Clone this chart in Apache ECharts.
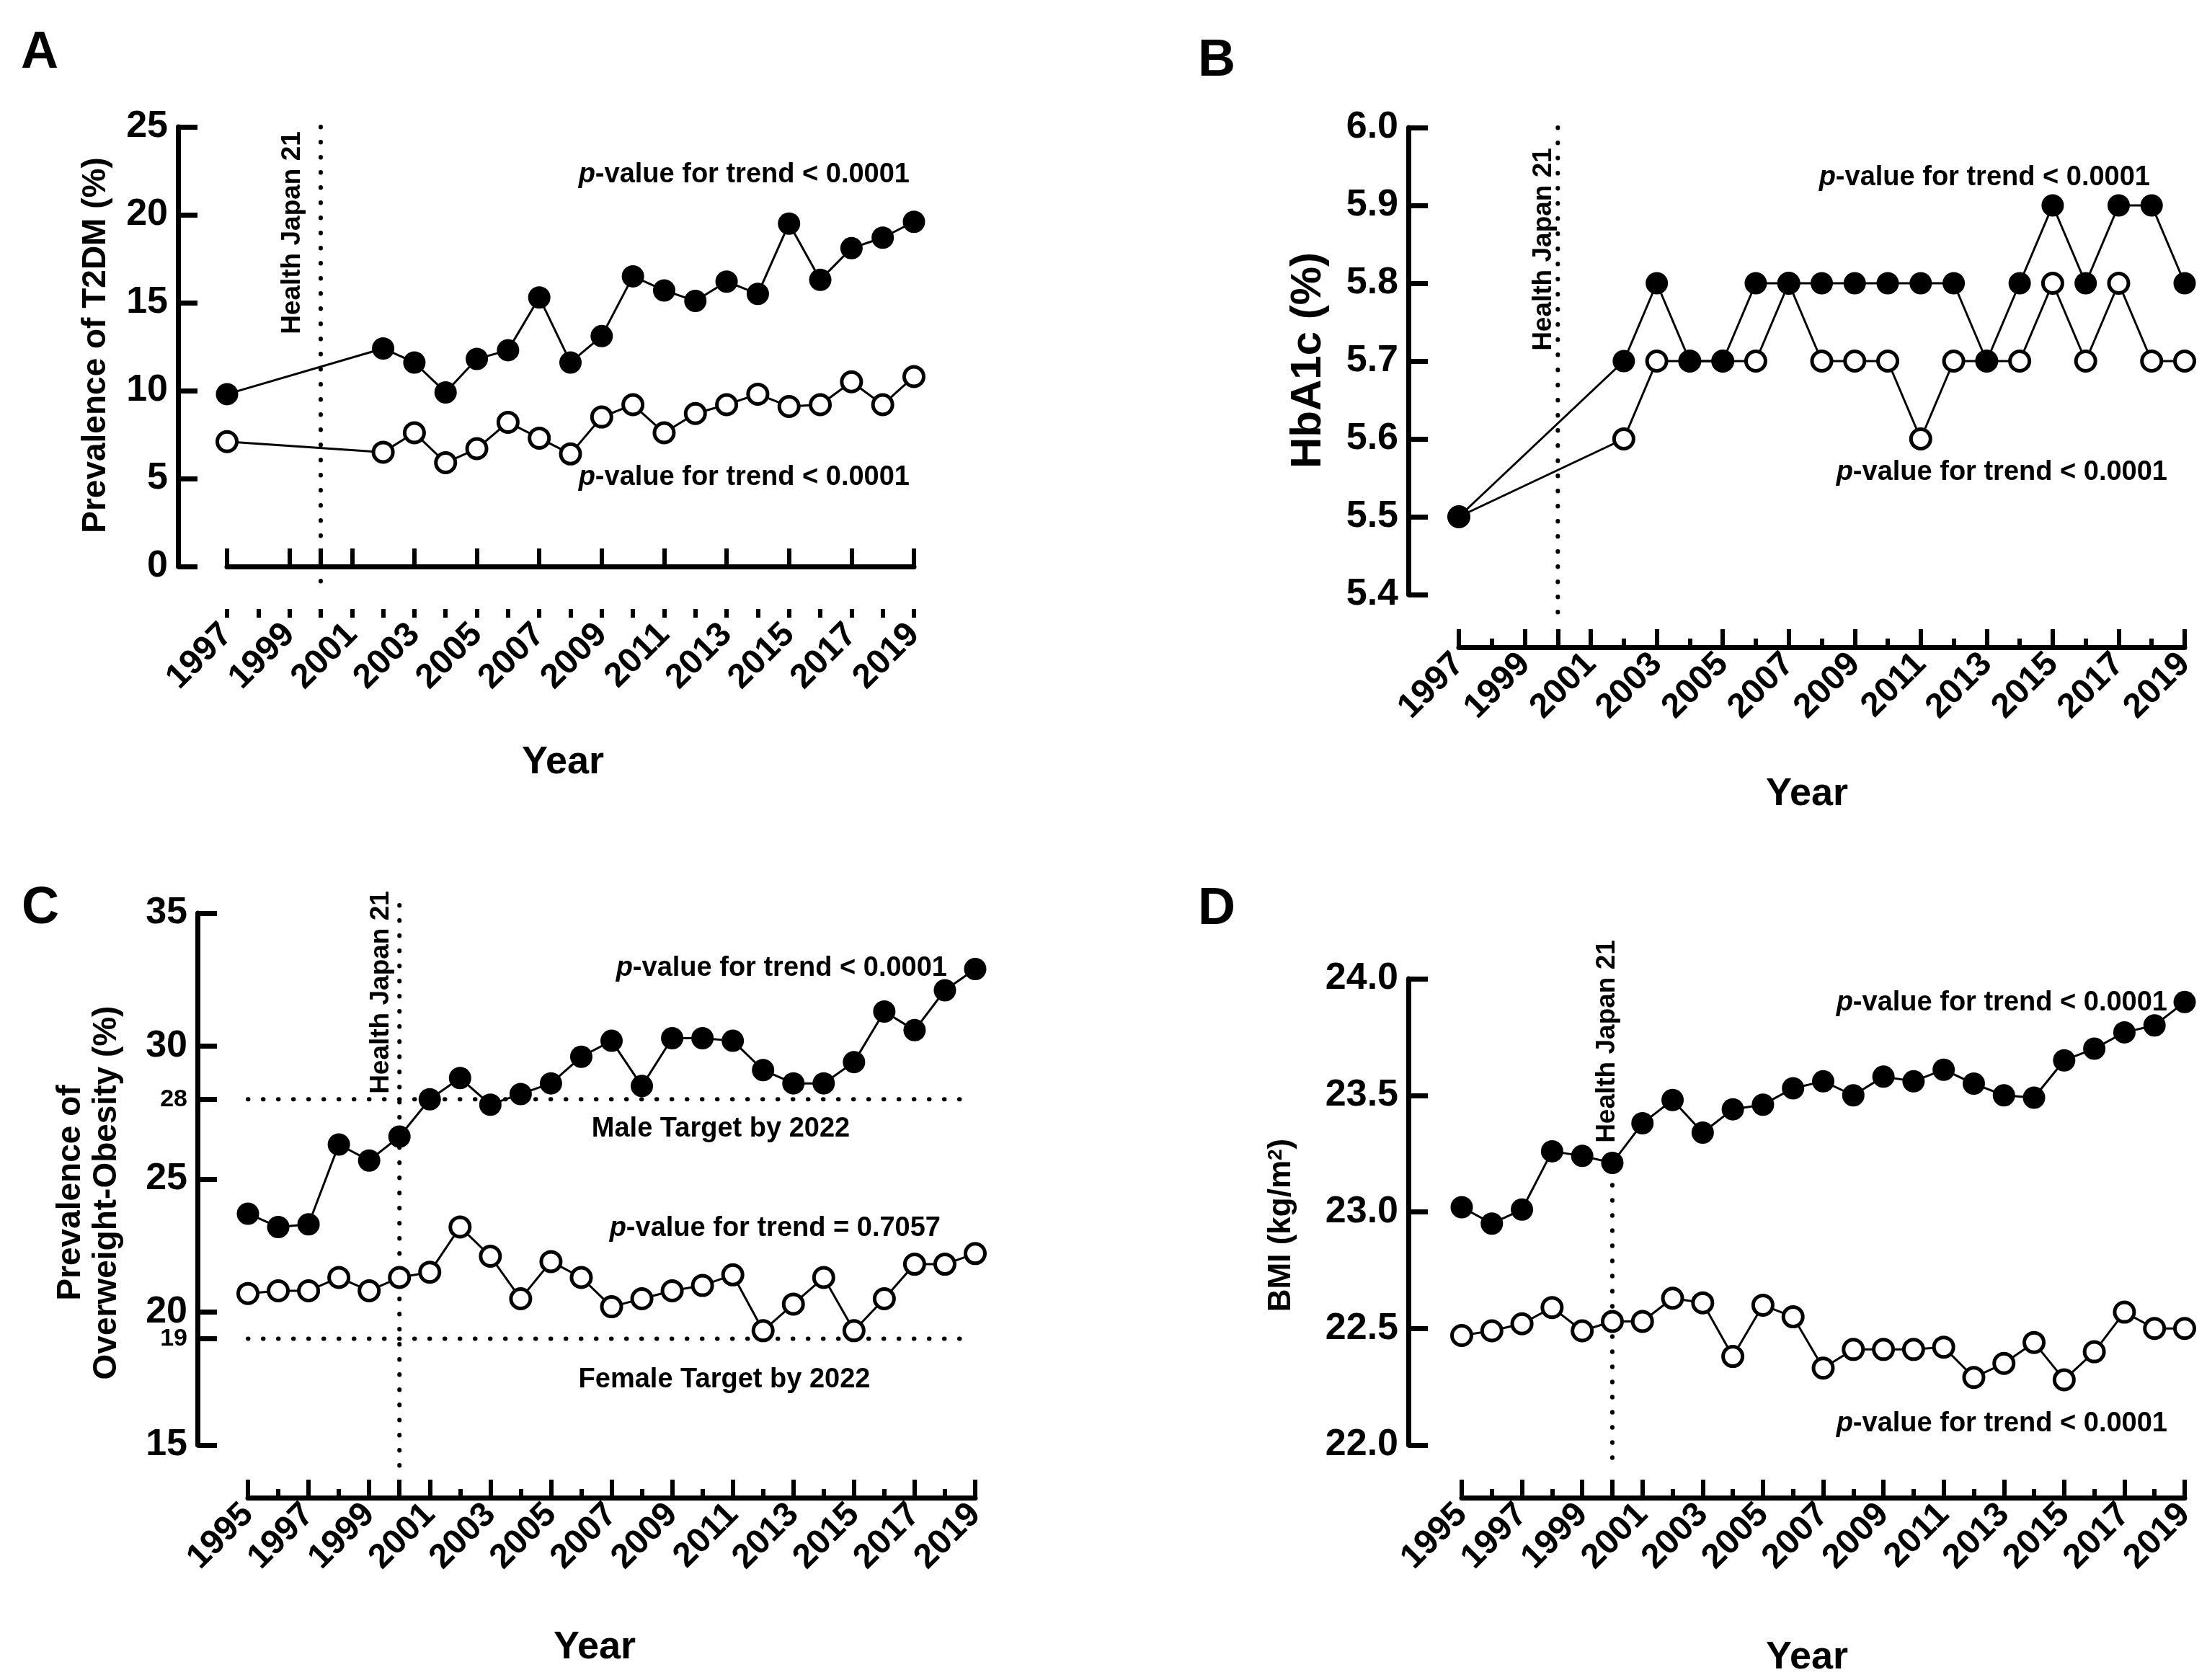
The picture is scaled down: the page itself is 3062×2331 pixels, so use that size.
<!DOCTYPE html>
<html><head><meta charset="utf-8">
<script src="https://cdn.jsdelivr.net/npm/echarts@6/dist/echarts.min.js"></script>
<style>html,body{margin:0;padding:0;background:#fff}#c{width:3062px;height:2331px}</style>
</head><body><div id="c"></div>
<script>
// ---------- data ----------
const yearsAB = [1997, 2002, 2003, 2004, 2005, 2006, 2007, 2008, 2009, 2010, 2011, 2012, 2013, 2014, 2015, 2016, 2017, 2018, 2019];
const t2dmMen   = [9.8, 12.4, 11.6, 9.9, 11.8, 12.3, 15.3, 11.6, 13.1, 16.5, 15.7, 15.1, 16.2, 15.5, 19.5, 16.3, 18.1, 18.7, 19.6];
const t2dmWomen = [7.1, 6.5, 7.6, 5.9, 6.7, 8.2, 7.3, 6.4, 8.5, 9.2, 7.6, 8.7, 9.2, 9.8, 9.1, 9.2, 10.5, 9.2, 10.8];
const hba1cMen   = [5.5, 5.7, 5.8, 5.7, 5.7, 5.8, 5.8, 5.8, 5.8, 5.8, 5.8, 5.8, 5.7, 5.8, 5.9, 5.8, 5.9, 5.9, 5.8];
const hba1cWomen = [5.5, 5.6, 5.7, 5.7, 5.7, 5.7, 5.8, 5.7, 5.7, 5.7, 5.6, 5.7, 5.7, 5.7, 5.8, 5.7, 5.8, 5.7, 5.7];

const yearsCD = [1995, 1996, 1997, 1998, 1999, 2000, 2001, 2002, 2003, 2004, 2005, 2006, 2007, 2008, 2009, 2010, 2011, 2012, 2013, 2014, 2015, 2016, 2017, 2018, 2019];
const obesityMen   = [23.7, 23.2, 23.3, 26.3, 25.7, 26.6, 28.0, 28.8, 27.8, 28.2, 28.6, 29.6, 30.2, 28.5, 30.3, 30.3, 30.2, 29.1, 28.6, 28.6, 29.4, 31.3, 30.6, 32.1, 32.9];
const obesityWomen = [20.7, 20.8, 20.8, 21.3, 20.8, 21.3, 21.5, 23.2, 22.1, 20.5, 21.9, 21.3, 20.2, 20.5, 20.8, 21.0, 21.4, 19.3, 20.3, 21.3, 19.3, 20.5, 21.8, 21.8, 22.2];
const bmiMen   = [23.02, 22.95, 23.01, 23.26, 23.24, 23.21, 23.38, 23.48, 23.34, 23.44, 23.46, 23.53, 23.56, 23.50, 23.58, 23.56, 23.61, 23.55, 23.50, 23.49, 23.65, 23.70, 23.77, 23.80, 23.90];
const bmiWomen = [22.47, 22.49, 22.52, 22.59, 22.49, 22.53, 22.53, 22.63, 22.61, 22.38, 22.60, 22.55, 22.33, 22.41, 22.41, 22.41, 22.42, 22.29, 22.35, 22.44, 22.28, 22.40, 22.57, 22.50, 22.50];

// tick labels / tick positions
const labelYearsAB = [1997, 1999, 2001, 2003, 2005, 2007, 2009, 2011, 2013, 2015, 2017, 2019];
const majorTicksAB = [1997, 1999, 2000, 2001, 2003, 2005, 2007, 2009, 2011, 2013, 2015, 2017, 2019];
const minorTicksAB = [1997, 1998, 1999, 2000, 2001, 2002, 2003, 2004, 2005, 2006, 2007, 2008, 2009, 2010, 2011, 2012, 2013, 2014, 2015, 2016, 2017, 2018, 2019];
const labelYearsCD = [1995, 1997, 1999, 2001, 2003, 2005, 2007, 2009, 2011, 2013, 2015, 2017, 2019];
const majorTicksCD = [1995, 1997, 1999, 2000, 2001, 2003, 2005, 2007, 2009, 2011, 2013, 2015, 2017, 2019];
const minorTicksCD = [1995, 1996, 1997, 1998, 1999, 2000, 2001, 2002, 2003, 2004, 2005, 2006, 2007, 2008, 2009, 2010, 2011, 2012, 2013, 2014, 2015, 2016, 2017, 2018, 2019];
const targetTicksC = [19, 28];

// annotations
const healthJapanYear = 2000;
const maleTarget = 28;
const femaleTarget = 19;

// ---------- layout ----------
const FONT = "'Liberation Sans', Arial, Helvetica, sans-serif";
const panels = [
  {grid:{left:315, top:176, width:953, height:610}, years:yearsAB, men:t2dmMen, women:t2dmWomen,
   xMin:1997, xMax:2019, yMin:0, yMax:25, yInt:5, dec:0, xOff:71, yOff:68,
   major:majorTicksAB, labels:labelYearsAB, minor:minorTicksAB, vline:[25, -1.0]},
  {grid:{left:2024, top:177, width:1007, height:648}, years:yearsAB, men:hba1cMen, women:hba1cWomen,
   xMin:1997, xMax:2019, yMin:5.4, yMax:6.0, yInt:0.1, dec:1, xOff:73, yOff:70,
   major:majorTicksAB, labels:labelYearsAB, minor:minorTicksAB, vline:[6.0, 5.372]},
  {grid:{left:344, top:1267, width:1009, height:738}, years:yearsCD, men:obesityMen, women:obesityWomen,
   xMin:1995, xMax:2019, yMin:15, yMax:35, yInt:5, dec:0, xOff:73, yOff:70,
   major:majorTicksCD, labels:labelYearsCD, minor:minorTicksCD, vline:[35.3, 14.2]},
  {grid:{left:2028, top:1358, width:1003, height:647}, years:yearsCD, men:bmiMen, women:bmiWomen,
   xMin:1995, xMax:2019, yMin:22, yMax:24, yInt:0.5, dec:1, xOff:73, yOff:74,
   major:majorTicksCD, labels:labelYearsCD, minor:minorTicksCD, vline:[23.18, 21.92]}
];

const grid = [], xAxis = [], yAxis = [], series = [];
const dotted = {color:'#000', width:6, type:[0.5, 20.5], cap:'round'};

panels.forEach((p, i) => {
  grid.push(Object.assign({containLabel:false}, p.grid));
  xAxis.push({
    gridIndex:i, type:'value', position:'bottom', min:p.xMin, max:p.xMax, offset:p.xOff,
    axisLine:{show:true, lineStyle:{color:'#000', width:7}},
    axisTick:{show:true, inside:true, length:25, lineStyle:{color:'#000', width:6}, customValues:p.major},
    axisLabel:{show:true, rotate:45, margin:16, color:'#000', fontSize:48, fontWeight:'bold', fontFamily:FONT,
      customValues:p.labels, formatter:(v) => String(v)},
    splitLine:{show:false}
  });
  xAxis.push({
    gridIndex:i, type:'value', position:'bottom', min:p.xMin, max:p.xMax, offset:p.xOff,
    axisLine:{show:false},
    axisTick:{show:true, inside:true, length:12, lineStyle:{color:'#000', width:6}, customValues:p.minor},
    axisLabel:{show:false}, splitLine:{show:false}
  });
  yAxis.push({
    gridIndex:i, type:'value', position:'left', min:p.yMin, max:p.yMax, interval:p.yInt, offset:p.yOff,
    axisLine:{show:true, lineStyle:{color:'#000', width:7}},
    axisTick:{show:true, inside:true, length:27, lineStyle:{color:'#000', width:7}},
    axisLabel:{show:true, margin:14, color:'#000', fontSize:52, fontWeight:'bold', fontFamily:FONT,
      formatter:(v) => Number(v).toFixed(p.dec)},
    splitLine:{show:false}
  });
});
// extra target ticks for panel C
yAxis.push({
  gridIndex:2, type:'value', position:'left', min:15, max:35, offset:70,
  axisLine:{show:false},
  axisTick:{show:true, inside:true, length:27, lineStyle:{color:'#000', width:7}, customValues:targetTicksC},
  axisLabel:{show:true, margin:14, color:'#000', fontSize:34, fontWeight:'bold', fontFamily:FONT,
    customValues:targetTicksC, formatter:(v) => String(v)},
  splitLine:{show:false}
});

panels.forEach((p, i) => {
  // Health Japan 21 vertical dotted line
  series.push({
    type:'line', xAxisIndex:2*i, yAxisIndex:i, clip:false, silent:true, symbol:'none',
    data:[[healthJapanYear, p.vline[0]], [healthJapanYear, p.vline[1]]],
    lineStyle:dotted, z:1
  });
  series.push({
    name:'Women', type:'line', xAxisIndex:2*i, yAxisIndex:i, clip:false, z:2,
    data:p.years.map((y, k) => [y, p.women[k]]),
    symbol:'circle', symbolSize:27, showAllSymbol:true,
    itemStyle:{color:'#fff', borderColor:'#000', borderWidth:5},
    lineStyle:{color:'#000', width:3}
  });
  series.push({
    name:'Men', type:'line', xAxisIndex:2*i, yAxisIndex:i, clip:false, z:3,
    data:p.years.map((y, k) => [y, p.men[k]]),
    symbol:'circle', symbolSize:31, showAllSymbol:true,
    itemStyle:{color:'#000', borderColor:'#000', borderWidth:0},
    lineStyle:{color:'#000', width:3}
  });
});
// target lines in panel C
[maleTarget, femaleTarget].forEach(t => {
  series.push({
    type:'line', xAxisIndex:4, yAxisIndex:2, clip:false, silent:true, symbol:'none', z:1,
    data:[[1994, t], [2018.6, t]], lineStyle:dotted
  });
});

function txt(x, y, text, size, opts) {
  opts = opts || {};
  const st = {
    text:text, fontSize:size, fontWeight:opts.weight || 'bold', fontFamily:FONT, fill:'#000',
    align:opts.align || 'center', verticalAlign:'middle',
    textAlign:opts.align || 'center', textVerticalAlign:'middle',
    lineHeight:opts.lineHeight
  };
  if (opts.rich) st.rich = opts.rich;
  return {type:'text', x:x, y:y, rotation:opts.rot || 0, silent:true, z:100, style:st};
}
const pRich = {i:{fontStyle:'italic', fontWeight:'bold', fontSize:38, fontFamily:FONT}};
const pLess = '{i|p}-value for trend < 0.0001';
const pEq = '{i|p}-value for trend = 0.7057';
const R90 = Math.PI / 2;

const graphic = [
  txt(55, 74, 'A', 72), txt(1688, 85, 'B', 72), txt(56, 1261, 'C', 72), txt(1688, 1262, 'D', 72),
  txt(781, 1058, 'Year', 54), txt(2507, 1102, 'Year', 54), txt(825, 2286, 'Year', 54), txt(2507, 2300, 'Year', 54),
  txt(133, 479, 'Prevalence of T2DM (%)', 46, {rot:R90}),
  txt(1815, 500, 'HbA1c (%)', 60, {rot:R90}),
  txt(123, 1655, 'Prevalence of\nOverweight-Obesity (%)', 46, {rot:R90, lineHeight:50}),
  txt(1778, 1700, 'BMI (kg/m{s|2})', 44, {rot:R90, rich:{s:{fontSize:28, fontWeight:'bold', fontFamily:FONT, verticalAlign:'top', lineHeight:44}}}),
  txt(1262, 243, pLess, 38, {align:'right', rich:pRich}),
  txt(1262, 663, pLess, 38, {align:'right', rich:pRich}),
  txt(2983, 247, pLess, 38, {align:'right', rich:pRich}),
  txt(3007, 656, pLess, 38, {align:'right', rich:pRich}),
  txt(1314, 1344, pLess, 38, {align:'right', rich:pRich}),
  txt(1305, 1705, pEq, 38, {align:'right', rich:pRich}),
  txt(3007, 1392, pLess, 38, {align:'right', rich:pRich}),
  txt(3007, 1976, pLess, 38, {align:'right', rich:pRich}),
  txt(1000, 1567, 'Male Target by 2022', 38),
  txt(1005, 1915, 'Female Target by 2022', 38),
  txt(406, 323, 'Health Japan 21', 37, {rot:R90}),
  txt(2142, 346, 'Health Japan 21', 37, {rot:R90}),
  txt(529, 1377, 'Health Japan 21', 37, {rot:R90}),
  txt(2230, 1445, 'Health Japan 21', 37, {rot:R90})
];

const chart = echarts.init(document.getElementById('c'), null, {renderer:'canvas', width:3062, height:2331, devicePixelRatio:1});
chart.setOption({
  backgroundColor:'#fff', animation:false,
  grid:grid, xAxis:xAxis, yAxis:yAxis, series:series, graphic:graphic
});
</script>
</body></html>
